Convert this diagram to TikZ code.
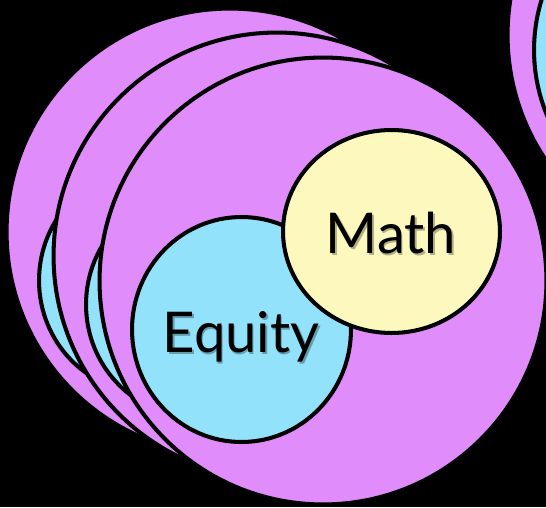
\documentclass[tikz,border=0pt]{standalone}
\usepackage{fontspec}
\newfontfamily\wordfont{Lato}
\usepackage{xcolor}
\usetikzlibrary{shapes.geometric}
\definecolor{discpink}{HTML}{E08CFA}
\definecolor{equitycyan}{HTML}{92E2FC}
\definecolor{mathyellow}{HTML}{FDF9BE}

\begin{document}
\begin{tikzpicture}[
  x=0.02cm, y=-0.02cm,
  disc/.style={draw=black, line width=2.3pt, fill=discpink, circle, inner sep=0pt, minimum size=8.94cm},
  equitydisc/.style={draw=black, line width=2.3pt, fill=equitycyan, ellipse, inner sep=0pt, minimum width=4.38cm, minimum height=4.5cm},
  mathdisc/.style={draw=black, line width=2.3pt, fill=mathyellow, ellipse, inner sep=0pt, minimum width=4.34cm, minimum height=4.06cm},
  word/.style={font=\wordfont\fontsize{32}{36}\selectfont, text=black, inner sep=0pt, anchor=base},
  wordshadow/.style={word, text=black, opacity=0.3}
]
\useasboundingbox (0,0) rectangle (546,507);
\clip (0,0) rectangle (546,507);
\fill[black] (0,0) rectangle (546,507);

% next set, top right
\node[disc] (nextdisc) at (731,35) {};
\node[equitydisc, minimum width=6.8cm, minimum height=6.8cm] (nextequity) at (704,50) {};

% back set
\node[disc] (backdisc) at (230,232) {};
\node[equitydisc] (backequity) at (148.5,280.5) {};

% middle set
\node[disc] (middisc) at (277,256) {};
\node[equitydisc] (midequity) at (195.5,304.5) {};

% front set
\node[disc] (frontdisc) at (323,281) {};
\node[equitydisc] (equity) at (241.5,329.5) {};
\node[mathdisc] (math) at (391.5,231.5) {};

\node[wordshadow] (equityshadow) at (242.5,354.5) {Equity};
\node[wordshadow] (mathshadow) at (392.5,255.5) {Math};
\node[word] (equitytext) at (241,352) {Equity};
\node[word] (mathtext) at (391,253) {Math};
\end{tikzpicture}
\end{document}
